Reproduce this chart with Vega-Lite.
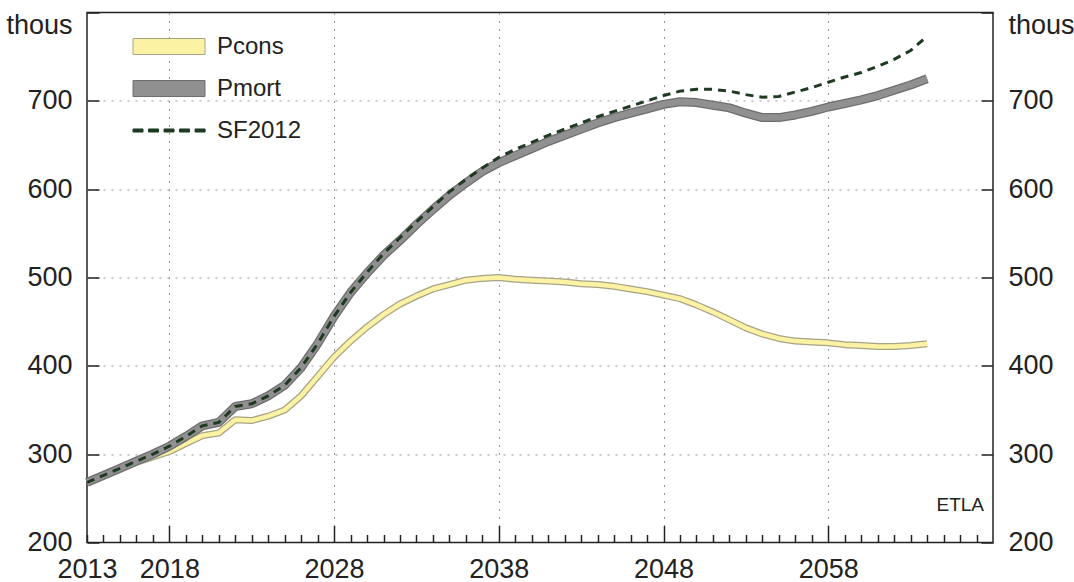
{
  "$schema": "https://vega.github.io/schema/vega-lite/v6.json",
  "width": 906,
  "height": 530,
  "autosize": "none",
  "padding": {"left": 87, "top": 12.5, "right": 81, "bottom": 39.5},
  "background": "white",
  "config": {
    "view": {"stroke": "#222", "strokeWidth": 1.5},
    "font": "Liberation Sans"
  },
  "data": {
    "values": [
      {"year": 2013, "Pcons": 268, "Pmort": 268, "SF2012": 268},
      {"year": 2014, "Pcons": 276, "Pmort": 276, "SF2012": 276},
      {"year": 2015, "Pcons": 284, "Pmort": 284, "SF2012": 284},
      {"year": 2016, "Pcons": 291, "Pmort": 292, "SF2012": 292},
      {"year": 2017, "Pcons": 297, "Pmort": 300, "SF2012": 300},
      {"year": 2018, "Pcons": 303, "Pmort": 309, "SF2012": 309},
      {"year": 2019, "Pcons": 312, "Pmort": 320, "SF2012": 320},
      {"year": 2020, "Pcons": 321, "Pmort": 332, "SF2012": 332},
      {"year": 2021, "Pcons": 324, "Pmort": 336, "SF2012": 336},
      {"year": 2022, "Pcons": 339, "Pmort": 354, "SF2012": 354},
      {"year": 2023, "Pcons": 338, "Pmort": 357, "SF2012": 357},
      {"year": 2024, "Pcons": 343, "Pmort": 366, "SF2012": 366},
      {"year": 2025, "Pcons": 350, "Pmort": 378, "SF2012": 378},
      {"year": 2026, "Pcons": 366, "Pmort": 398, "SF2012": 398},
      {"year": 2027, "Pcons": 388, "Pmort": 425, "SF2012": 425},
      {"year": 2028, "Pcons": 410, "Pmort": 456, "SF2012": 456},
      {"year": 2029, "Pcons": 428, "Pmort": 483, "SF2012": 483},
      {"year": 2030, "Pcons": 444, "Pmort": 505, "SF2012": 506},
      {"year": 2031, "Pcons": 458, "Pmort": 525, "SF2012": 527},
      {"year": 2032, "Pcons": 470, "Pmort": 542, "SF2012": 545},
      {"year": 2033, "Pcons": 479, "Pmort": 560, "SF2012": 563},
      {"year": 2034, "Pcons": 487, "Pmort": 577, "SF2012": 580},
      {"year": 2035, "Pcons": 492, "Pmort": 593, "SF2012": 597},
      {"year": 2036, "Pcons": 497, "Pmort": 607, "SF2012": 611},
      {"year": 2037, "Pcons": 499, "Pmort": 620, "SF2012": 624},
      {"year": 2038, "Pcons": 500, "Pmort": 630, "SF2012": 636},
      {"year": 2039, "Pcons": 498, "Pmort": 638, "SF2012": 645},
      {"year": 2040, "Pcons": 497, "Pmort": 646, "SF2012": 653},
      {"year": 2041, "Pcons": 496, "Pmort": 654, "SF2012": 661},
      {"year": 2042, "Pcons": 495, "Pmort": 661, "SF2012": 668},
      {"year": 2043, "Pcons": 493, "Pmort": 668, "SF2012": 675},
      {"year": 2044, "Pcons": 492, "Pmort": 675, "SF2012": 682},
      {"year": 2045, "Pcons": 490, "Pmort": 681, "SF2012": 688},
      {"year": 2046, "Pcons": 487, "Pmort": 686, "SF2012": 694},
      {"year": 2047, "Pcons": 484, "Pmort": 691, "SF2012": 700},
      {"year": 2048, "Pcons": 480, "Pmort": 696, "SF2012": 706},
      {"year": 2049, "Pcons": 476, "Pmort": 699, "SF2012": 711},
      {"year": 2050, "Pcons": 469, "Pmort": 698, "SF2012": 713},
      {"year": 2051, "Pcons": 461, "Pmort": 695, "SF2012": 713},
      {"year": 2052, "Pcons": 452, "Pmort": 692, "SF2012": 711},
      {"year": 2053, "Pcons": 443, "Pmort": 686, "SF2012": 707},
      {"year": 2054, "Pcons": 436, "Pmort": 681, "SF2012": 704},
      {"year": 2055, "Pcons": 431, "Pmort": 681, "SF2012": 705},
      {"year": 2056, "Pcons": 428, "Pmort": 684, "SF2012": 710},
      {"year": 2057, "Pcons": 427, "Pmort": 688, "SF2012": 715},
      {"year": 2058, "Pcons": 426, "Pmort": 693, "SF2012": 721},
      {"year": 2059, "Pcons": 424, "Pmort": 697, "SF2012": 727},
      {"year": 2060, "Pcons": 423, "Pmort": 701, "SF2012": 732},
      {"year": 2061, "Pcons": 422, "Pmort": 706, "SF2012": 739},
      {"year": 2062, "Pcons": 422, "Pmort": 712, "SF2012": 747},
      {"year": 2063, "Pcons": 423, "Pmort": 718, "SF2012": 757},
      {"year": 2064, "Pcons": 425, "Pmort": 725, "SF2012": 773}
    ]
  },
  "encoding": {
    "x": {
      "field": "year",
      "type": "quantitative",
      "scale": {"domain": [2013, 2068], "nice": false, "zero": false},
      "axis": {
        "title": null,
        "values": [2013, 2014, 2015, 2016, 2017, 2018, 2019, 2020, 2021, 2022, 2023, 2024, 2025, 2026, 2027, 2028, 2029, 2030, 2031, 2032, 2033, 2034, 2035, 2036, 2037, 2038, 2039, 2040, 2041, 2042, 2043, 2044, 2045, 2046, 2047, 2048, 2049, 2050, 2051, 2052, 2053, 2054, 2055, 2056, 2057, 2058, 2059, 2060, 2061, 2062, 2063, 2064, 2065, 2066, 2067],
        "format": "d",
        "labelExpr": "datum.value === 2013 || ((datum.value - 2018) % 10 === 0 && datum.value <= 2058) ? datum.label : ''",
        "labelFontSize": 27,
        "labelColor": "#222",
        "labelFlush": false,
        "labelOverlap": false,
        "labelPadding": {"condition": {"test": "(datum.value - 2018) % 10 === 0", "value": 31}, "value": 22},
        "domain": false,
        "ticks": true,
        "tickColor": "#222",
        "tickWidth": 1.5,
        "tickSize": {"condition": {"test": "(datum.value - 2018) % 10 === 0", "value": -17}, "value": -8},
        "grid": true,
        "gridColor": "#999",
        "gridDash": [2, 6],
        "gridWidth": 1,
        "gridOpacity": {"condition": {"test": "(datum.value - 2018) % 10 === 0", "value": 1}, "value": 0}
      }
    }
  },
  "layer": [
    {
      "mark": {"type": "line", "stroke": "#a6a386", "strokeWidth": 7, "strokeJoin": "round"},
      "encoding": {
        "y": {
          "field": "Pcons",
          "type": "quantitative",
          "scale": {"domain": [200, 800], "nice": false, "zero": false},
          "axis": {
            "orient": "left",
            "title": null,
            "values": [200, 300, 400, 500, 600, 700, 800],
            "labelExpr": "datum.value === 800 ? 'thous' : datum.label",
            "labelFontSize": 27,
            "labelColor": "#222",
            "labelPadding": 27,
            "labelOverlap": false,
            "labelBaseline": {"condition": {"test": "datum.value === 800", "value": "top"}, "value": "middle"},
            "domain": false,
            "tickColor": "#222",
            "tickWidth": 1.5,
            "tickSize": -12,
            "grid": true,
            "gridColor": "#999",
            "gridDash": [2, 6],
            "gridOpacity": {"condition": {"test": "datum.value === 200 || datum.value === 800", "value": 0}, "value": 1}
          }
        }
      }
    },
    {
      "mark": {"type": "line", "stroke": "#fbf3a3", "strokeWidth": 4.5, "strokeJoin": "round"},
      "encoding": {
        "y": {"field": "Pcons", "type": "quantitative", "scale": {"domain": [200, 800]}, "axis": null}
      }
    },
    {
      "mark": {"type": "line", "stroke": "#6e6e6e", "strokeWidth": 9, "strokeJoin": "round"},
      "encoding": {
        "y": {"field": "Pmort", "type": "quantitative", "scale": {"domain": [200, 800]}, "axis": null}
      }
    },
    {
      "mark": {"type": "line", "stroke": "#909090", "strokeWidth": 6.5, "strokeJoin": "round"},
      "encoding": {
        "y": {"field": "Pmort", "type": "quantitative", "scale": {"domain": [200, 800]}, "axis": null}
      }
    },
    {
      "mark": {"type": "line", "stroke": "#1e3b22", "strokeWidth": 3, "strokeDash": [8, 6]},
      "encoding": {
        "y": {
          "field": "SF2012",
          "type": "quantitative",
          "scale": {"domain": [200, 800]},
          "axis": {
            "orient": "right",
            "title": null,
            "values": [200, 300, 400, 500, 600, 700, 800],
            "labelExpr": "datum.value === 800 ? 'thous' : datum.label",
            "labelFontSize": 27,
            "labelColor": "#222",
            "labelPadding": 27,
            "labelOverlap": false,
            "labelBaseline": {"condition": {"test": "datum.value === 800", "value": "top"}, "value": "middle"},
            "domain": false,
            "tickColor": "#222",
            "tickWidth": 1.5,
            "tickSize": -12,
            "grid": false
          }
        }
      }
    },
    {
      "transform": [
        {"fold": ["Pcons", "Pmort", "SF2012"], "as": ["series", "value"]},
        {"filter": "datum.year < 0"}
      ],
      "mark": {"type": "point", "filled": true, "strokeWidth": 1, "opacity": 1},
      "encoding": {
        "y": {"field": "value", "type": "quantitative", "scale": {"domain": [200, 800]}, "axis": null},
        "fill": {
          "field": "series",
          "type": "nominal",
          "scale": {"domain": ["Pcons", "Pmort", "SF2012"], "range": ["#fbf3a3", "#909090", "#1e3b22"]},
          "legend": {
            "title": null,
            "orient": "none",
            "legendX": 70,
            "legendY": 22,
            "padding": 0,
            "rowPadding": 18,
            "symbolSize": 256,
            "symbolStrokeWidth": 1,
            "labelFontSize": 24,
            "labelColor": "#222",
            "labelOffset": 36
          }
        },
        "stroke": {
          "field": "series",
          "type": "nominal",
          "scale": {"domain": ["Pcons", "Pmort", "SF2012"], "range": ["#a6a386", "#6e6e6e", "#1e3b22"]},
          "legend": {
            "title": null,
            "orient": "none",
            "legendX": 70,
            "legendY": 22,
            "padding": 0,
            "rowPadding": 18,
            "symbolSize": 256,
            "symbolStrokeWidth": 1,
            "labelFontSize": 24,
            "labelColor": "#222",
            "labelOffset": 36
          }
        },
        "shape": {
          "field": "series",
          "type": "nominal",
          "scale": {
            "domain": ["Pcons", "Pmort", "SF2012"],
            "range": [
              "M-4.5,-1L4.5,-1L4.5,1L-4.5,1Z",
              "M-4.5,-1L4.5,-1L4.5,1L-4.5,1Z",
              "M-4.5,-0.19h1.25v0.38h-1.25zM-2.56,-0.19h1.25v0.38h-1.25zM-0.62,-0.19h1.25v0.38h-1.25zM1.32,-0.19h1.25v0.38h-1.25zM3.26,-0.19h1.25v0.38h-1.25z"
            ]
          },
          "legend": {
            "title": null,
            "orient": "none",
            "legendX": 70,
            "legendY": 22,
            "padding": 0,
            "rowPadding": 18,
            "symbolSize": 256,
            "symbolStrokeWidth": 1,
            "labelFontSize": 24,
            "labelColor": "#222",
            "labelOffset": 36
          }
        }
      }
    },
    {
      "data": {"values": [{"x": 2068, "y": 242, "t": "ETLA"}]},
      "mark": {"type": "text", "align": "right", "baseline": "middle", "dx": -9, "fontSize": 19, "color": "#222"},
      "encoding": {
        "x": {"field": "x", "type": "quantitative"},
        "y": {"field": "y", "type": "quantitative", "scale": {"domain": [200, 800]}, "axis": null},
        "text": {"field": "t"}
      }
    }
  ],
  "resolve": {"axis": {"y": "independent"}}
}
